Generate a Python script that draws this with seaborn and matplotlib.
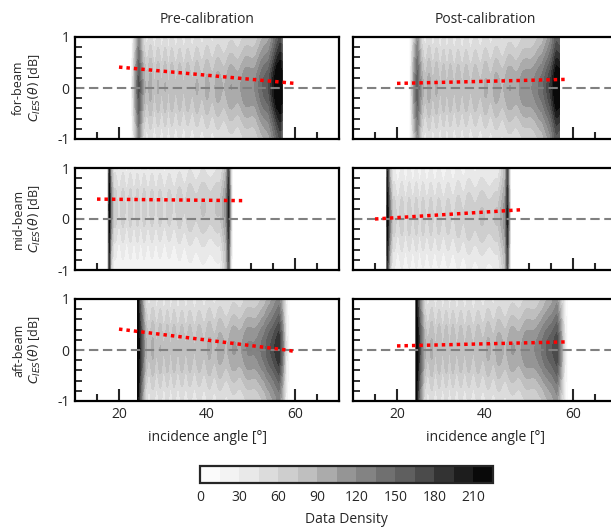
import numpy as np
import pandas as pd
import matplotlib
matplotlib.use("Agg")
import matplotlib.pyplot as plt
import seaborn as sns

# ---------------- data ----------------
COLUMNS = ["Pre-calibration", "Post-calibration"]
ROWS = ["for-beam", "mid-beam", "aft-beam"]
LEVELS = list(range(0, 226, 15))
CBAR_TICKS = [0, 30, 60, 90, 120, 150, 180, 210]
X_TICKS = [20, 40, 60]
Y_TICKS = [-1, 0, 1]

# lobe centres of the density banding, in degrees after the start of the swath
LOBE_OFFSETS = [0.9, 2.7, 4.4, 6.0, 7.5, 9.3, 11.1, 13.2, 15.5, 17.9, 20.9, 24.3, 28.2, 32.5]

# density profile nodes: angle [deg], density at the core, density at |C| = 1
pre_for_theta = [22.8, 23.6, 24.5, 25.5, 28, 35, 42, 47, 51, 54, 55.8, 56.6, 57.05, 57.1]
pre_for_core = [0, 90, 160, 95, 84, 82, 90, 104, 125, 165, 235, 240, 205, 0]
pre_for_edge = [0, 40, 105, 36, 34, 34, 36, 42, 55, 85, 130, 150, 120, 0]
pre_for_c0 = 0.02

post_for_theta = [22.9, 23.8, 24.6, 25.6, 30, 38, 44, 49, 53, 55, 56.2, 56.9, 57.0, 57.05]
post_for_core = [0, 100, 150, 92, 82, 82, 94, 112, 140, 190, 235, 225, 200, 0]
post_for_edge = [0, 50, 100, 36, 34, 34, 36, 45, 65, 105, 140, 130, 110, 0]
post_for_c0 = 0.0

pre_mid_theta = [17.4, 17.8, 18.2, 18.8, 25, 32, 38, 43, 44.4, 44.9, 45.3, 45.8]
pre_mid_core = [0, 215, 120, 62, 62, 62, 72, 74, 120, 200, 100, 0]
pre_mid_edge = [0, 180, 55, 16, 16, 16, 20, 20, 75, 160, 55, 0]
pre_mid_c0 = 0.22

post_mid_theta = [17.5, 17.8, 18.4, 19.0, 25, 32, 38, 43, 44.6, 45.1, 45.5, 45.9]
post_mid_core = [0, 215, 120, 62, 62, 62, 72, 74, 120, 200, 100, 0]
post_mid_edge = [0, 180, 55, 16, 16, 16, 20, 20, 75, 160, 55, 0]
post_mid_c0 = 0.05

pre_aft_theta = [24.1, 24.2, 25, 26, 30, 38, 45, 50, 53, 55.5, 56.3, 57, 58, 58.8]
pre_aft_core = [0, 235, 170, 88, 82, 82, 96, 120, 140, 185, 195, 150, 40, 0]
pre_aft_edge = [0, 215, 120, 36, 34, 34, 36, 48, 62, 100, 110, 80, 20, 0]
pre_aft_c0 = 0.03

post_aft_theta = [24.25, 24.35, 25.2, 26.2, 30, 38, 45, 50, 53, 55.5, 56.3, 57.2, 58.2, 58.8]
post_aft_core = [0, 235, 160, 88, 82, 82, 96, 115, 135, 170, 180, 120, 30, 0]
post_aft_edge = [0, 215, 110, 36, 34, 34, 36, 48, 58, 90, 100, 60, 15, 0]
post_aft_c0 = 0.02

# red trend lines (incidence angle, C_IES)
pre_for_fit_x = [20, 60]
pre_for_fit_y = [0.41, 0.09]
post_for_fit_x = [20, 59]
post_for_fit_y = [0.09, 0.17]
pre_mid_fit_x = [15, 48]
pre_mid_fit_y = [0.39, 0.36]
post_mid_fit_x = [15, 48]
post_mid_fit_y = [0.00, 0.18]
pre_aft_fit_x = [20, 58, 60]
pre_aft_fit_y = [0.41, 0.0, -0.03]
post_aft_fit_x = [20, 59]
post_aft_fit_y = [0.08, 0.16]

PANELS = [
    [(pre_for_theta, pre_for_core, pre_for_edge, pre_for_c0, pre_for_fit_x, pre_for_fit_y),
     (post_for_theta, post_for_core, post_for_edge, post_for_c0, post_for_fit_x, post_for_fit_y)],
    [(pre_mid_theta, pre_mid_core, pre_mid_edge, pre_mid_c0, pre_mid_fit_x, pre_mid_fit_y),
     (post_mid_theta, post_mid_core, post_mid_edge, post_mid_c0, post_mid_fit_x, post_mid_fit_y)],
    [(pre_aft_theta, pre_aft_core, pre_aft_edge, pre_aft_c0, pre_aft_fit_x, pre_aft_fit_y),
     (post_aft_theta, post_aft_core, post_aft_edge, post_aft_c0, post_aft_fit_x, post_aft_fit_y)],
]

# ---------------- style ----------------
sns.set_style("ticks")
plt.rcParams["font.family"] = ["Open Sans", "DejaVu Sans"]
plt.rcParams["font.size"] = 10
plt.rcParams["mathtext.fontset"] = "dejavusans"
plt.rcParams["axes.unicode_minus"] = False

TH_GRID = np.linspace(10, 70, 1201)
C_GRID = np.linspace(-1, 1, 241)
TH, CC = np.meshgrid(TH_GRID, C_GRID)


def density_field(theta_nodes, core_nodes, edge_nodes, c0):
    core = np.interp(TH, theta_nodes, core_nodes, left=0, right=0)
    edge = np.interp(TH, theta_nodes, edge_nodes, left=0, right=0)
    start = theta_nodes[2]
    lobe_pos = [start + o for o in LOBE_OFFSETS]
    phase = 2 * np.pi * np.interp(TH, lobe_pos, np.arange(len(lobe_pos)))
    fade = np.interp(TH - start, [0, 16, 28], [1.0, 0.8, 0.25])
    ripple = 1 + 0.16 * fade * np.cos(phase)
    sigma = 0.55 * (1 + 0.14 * fade * np.cos(phase))
    d = edge + (core - edge) * ripple * np.exp(-0.5 * ((CC - c0) / sigma) ** 2)
    d = np.clip(d, 0, 224.9)
    return np.where(d < 0.5, np.nan, d)


fig = plt.figure(figsize=(6.11, 5.28), dpi=100)
left_x = [75 / 611, 353 / 611]
ax_w = 264 / 611
row_b = [1 - 139 / 528, 1 - 270 / 528, 1 - 401 / 528]
ax_h = 102 / 528

cs = None
for r in range(3):
    for c in range(2):
        ax = fig.add_axes([left_x[c], row_b[r], ax_w, ax_h])
        th_n, core_n, edge_n, c0, fx, fy = PANELS[r][c]
        dens = density_field(th_n, core_n, edge_n, c0)
        cs = ax.contourf(TH, CC, dens, levels=LEVELS, cmap="Greys", zorder=1)
        ax.set_axisbelow(True)
        ax.axhline(0, color="#808080", lw=1.5, dashes=(4.5, 2.2), zorder=3)
        sns.lineplot(x=fx, y=fy, ax=ax, color="red", lw=2.5,
                     linestyle=(0, (1, 1.15)), zorder=4)
        ax.set_xlim(10, 70)
        ax.set_ylim(-1, 1)
        ax.set_xticks(X_TICKS)
        ax.set_xticks(np.arange(15, 70, 5), minor=True)
        ax.set_yticks(Y_TICKS)
        ax.set_yticks(np.arange(-0.8, 0.81, 0.2), minor=True)
        ax.tick_params(axis="x", which="major", direction="in", length=9, width=1.5,
                       bottom=True, top=False)
        ax.tick_params(axis="x", which="minor", direction="in", length=5, width=1.5,
                       bottom=True, top=False)
        ax.tick_params(axis="y", which="both", direction="in", length=5, width=1.3,
                       left=True, right=False)
        ax.tick_params(axis="both", labelsize=10, pad=4)
        for sp in ax.spines.values():
            sp.set_linewidth(1.6)
            sp.set_color("black")
            sp.set_zorder(5)
        if c == 1:
            ax.set_yticklabels([])
        else:
            ax.set_ylabel(ROWS[r] + "\n" + r"$C_{IES}(\theta)$ [dB]", fontsize=9,
                          labelpad=10, linespacing=1.15)
        if r < 2:
            ax.set_xticklabels([])
        else:
            ax.set_xlabel("incidence angle [°]", fontsize=10, labelpad=6)
        if r == 0:
            ax.set_title(COLUMNS[c], fontsize=10, pad=10)

cax = fig.add_axes([200 / 611, 1 - 483 / 528, 293 / 611, 17 / 528])
cb = fig.colorbar(cs, cax=cax, orientation="horizontal", ticks=CBAR_TICKS)
cb.outline.set_linewidth(1.6)
cb.ax.tick_params(length=0, labelsize=10, pad=5)
cb.set_label("Data Density", fontsize=10, labelpad=5)

fig.savefig("out.png", dpi=100)
